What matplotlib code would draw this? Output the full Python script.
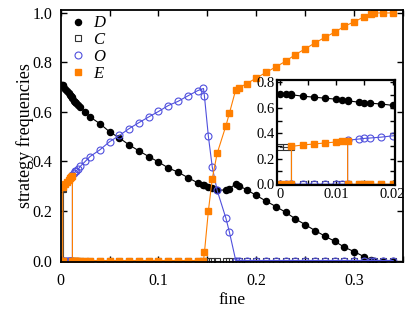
import matplotlib
matplotlib.use("Agg")
import matplotlib.pyplot as plt
from matplotlib.lines import Line2D
from matplotlib.ticker import MultipleLocator

plt.rcParams['font.family'] = ['Liberation Serif', 'DejaVu Serif']

# fine values; repeated values mark a jump between two stationary states
fine = [0, 0.001, 0.002,
        0.002, 0.004, 0.006, 0.008, 0.010, 0.011, 0.012,
        0.012, 0.014, 0.015, 0.016, 0.018, 0.020, 0.025, 0.030,
        0.04, 0.05, 0.06, 0.07, 0.08, 0.09, 0.10, 0.11, 0.12, 0.13, 0.14, 0.146,
        0.147, 0.151, 0.155, 0.160, 0.169, 0.1725,
        0.179, 0.182, 0.19, 0.20, 0.21, 0.22, 0.23, 0.24, 0.25, 0.26, 0.27,
        0.28, 0.29, 0.30, 0.31, 0.317, 0.32, 0.33, 0.34]

freq_D = [0.71, 0.71, 0.71,
          0.703, 0.692, 0.684, 0.676, 0.668, 0.664, 0.66,
          0.655, 0.645, 0.64, 0.637, 0.63, 0.62, 0.60, 0.58,
          0.553, 0.52, 0.495, 0.467, 0.443, 0.42, 0.398, 0.374, 0.357, 0.335, 0.314, 0.305,
          0.304, 0.298, 0.292, 0.284, 0.285, 0.29,
          0.31, 0.303, 0.286, 0.263, 0.24, 0.218, 0.195, 0.168, 0.145, 0.121, 0.099,
          0.078, 0.054, 0.036, 0.016, 0.004, 0.0, 0.0, 0.0]

freq_C = [0.29, 0.29, 0.29] + [0.0] * 52

freq_O = [0.0] * 10 + \
         [0.345, 0.355, 0.36, 0.363, 0.37, 0.38, 0.40, 0.42,
          0.447, 0.48, 0.505, 0.533, 0.557, 0.58, 0.602, 0.626, 0.643, 0.665, 0.686, 0.695,
          0.663, 0.502, 0.377, 0.283, 0.17, 0.115] + [0.0] * 19

freq_E = [0.0, 0.0, 0.0,
          0.297, 0.308, 0.316, 0.324, 0.332, 0.336, 0.34] + [0.0] * 20 + \
         [0.033, 0.2, 0.331, 0.433, 0.545, 0.595,
          0.69, 0.697, 0.714, 0.737, 0.76, 0.782, 0.805, 0.832, 0.855, 0.879, 0.901,
          0.922, 0.946, 0.964, 0.984, 0.996, 1.0, 1.0, 1.0]

labels = ['D', 'C', 'O', 'E']
blue = '#5050dd'
orange = '#ff7f00'
styles = {
    'D': dict(color='black', marker='o', ms=4.4, mfc='black', mec='black'),
    'C': dict(color='#444444', marker='s', ms=4.2, mfc='none', mec='#333333', mew=0.8),
    'O': dict(color=blue, marker='o', ms=5, mfc='none', mec=blue, mew=0.8),
    'E': dict(color=orange, marker='s', ms=4.4, mfc=orange, mec=orange),
}
series = {'D': freq_D, 'C': freq_C, 'O': freq_O, 'E': freq_E}


def draw(ax, lw):
    for k in labels:
        ax.plot(fine, series[k], lw=lw, **styles[k])


fig = plt.figure(figsize=(4.14, 3.17), dpi=100)
ax = fig.add_axes([0.1466, 0.1735, 0.8268, 0.795])
draw(ax, 0.8)
ax.set_xlim(0, 0.35)
ax.set_ylim(-0.006, 1.012)
ax.set_xticks([0, 0.1, 0.2, 0.3])
ax.set_xticklabels(['0', '0.1', '0.2', '0.3'])
ax.xaxis.set_minor_locator(MultipleLocator(0.05))
ax.set_yticks([0, 0.2, 0.4, 0.6, 0.8, 1.0])
ax.set_yticklabels(['0.0', '0.2', '0.4', '0.6', '0.8', '1.0'])
ax.tick_params(which='both', direction='in', top=True, right=True,
               length=4, width=1, labelsize=11.5)
ax.tick_params(axis='x', pad=8)
ax.tick_params(axis='y', pad=6)
for s in ax.spines.values():
    s.set_linewidth(1.3)
ax.set_xlabel('fine', fontsize=12.5, labelpad=2)
ax.set_ylabel('strategy frequencies', fontsize=13, labelpad=-1)

handles = [Line2D([], [], ls='none', **styles[k]) for k in labels]
ax.legend(handles, labels, loc='upper left', frameon=False,
          prop={'family': 'Liberation Serif', 'style': 'italic', 'size': 12},
          handlelength=0.6, handletextpad=0.6, labelspacing=0.05,
          borderaxespad=0.2, bbox_to_anchor=(0.008, 1.018))

ins = fig.add_axes([0.67, 0.415, 0.285, 0.333])
draw(ins, 0.8)
ins.set_xlim(-0.0005, 0.0205)
ins.set_ylim(-0.01, 0.82)
ins.set_xticks([0, 0.01, 0.02])
ins.set_xticklabels(['0', '0.01', '0.02'])
ins.xaxis.set_minor_locator(MultipleLocator(0.005))
ins.set_yticks([0, 0.2, 0.4, 0.6, 0.8])
ins.set_yticklabels(['0.0', '0.2', '0.4', '0.6', '0.8'])
ins.yaxis.set_minor_locator(MultipleLocator(0.1))
ins.tick_params(which='both', direction='in', top=True, right=True,
                length=3.5, width=1, labelsize=10.5, pad=2)
for s in ins.spines.values():
    s.set_linewidth(1.6)

fig.savefig('out.png', dpi=100)
